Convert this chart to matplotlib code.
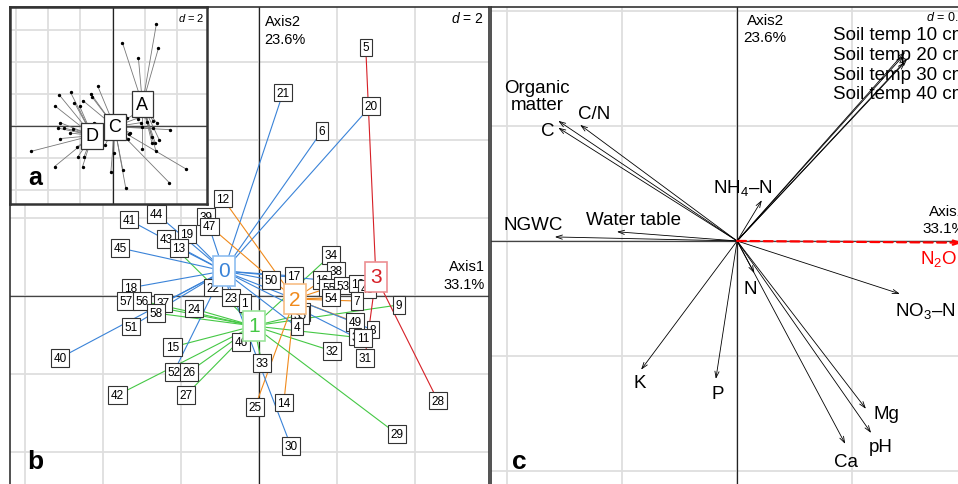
import matplotlib
matplotlib.use("Agg")
import matplotlib.pyplot as plt

plt.rcParams['font.family'] = ['Liberation Sans', 'DejaVu Sans']
plt.rcParams['mathtext.fontset'] = 'custom'
plt.rcParams['mathtext.rm'] = 'Liberation Sans'
plt.rcParams['mathtext.it'] = 'Liberation Sans:italic'

# sample scores (panel b, reused in inset a)
pt_lab = ["5", "21", "20", "6", "12", "39", "47", "41", "44", "43", "19", "13", "45", "18",
          "57", "56", "37", "58", "24", "22", "23", "1", "50", "17", "34", "38", "16", "55",
          "53", "10", "48", "54", "7", "9", "36", "35", "4", "49", "8", "3", "11", "31", "32",
          "46", "33", "15", "52", "26", "27", "42", "40", "51", "25", "14", "30", "29", "28"]
pt_x = [2.74, 0.62, 2.87, 1.62, -0.92, -1.36, -1.26, -3.33, -2.62, -2.38, -1.85, -2.05, -3.56, -3.28,
        -3.41, -3.00, -2.46, -2.64, -1.67, -1.18, -0.72, -0.36, 0.31, 0.90, 1.85, 1.97, 1.62, 1.79,
        2.15, 2.54, 2.77, 1.85, 2.51, 3.59, 1.08, 1.05, 0.97, 2.46, 2.92, 2.46, 2.67, 2.72, 1.87,
        -0.46, 0.08, -2.21, -2.18, -1.79, -1.87, -3.62, -5.10, -3.28, -0.10, 0.64, 0.82, 3.54, 4.59]
pt_y = [6.38, 5.21, 4.87, 4.23, 2.49, 2.03, 1.79, 1.95, 2.10, 1.46, 1.59, 1.23, 1.23, 0.21,
        -0.13, -0.13, -0.18, -0.44, -0.33, 0.21, -0.05, -0.18, 0.41, 0.51, 1.05, 0.64, 0.41, 0.21,
        0.26, 0.31, 0.18, -0.05, -0.13, -0.23, -0.41, -0.49, -0.79, -0.67, -0.87, -1.05, -1.08, -1.59, -1.41,
        -1.18, -1.72, -1.31, -1.95, -1.95, -2.54, -2.54, -1.59, -0.79, -2.85, -2.74, -3.85, -3.54, -2.69]
pt_cluster = [3, 0, 0, 0, 2, 0, 2, 0, 0, 1, 0, 0, 0, 0,
              1, 1, 0, 1, 1, 0, 0, 1, 0, 0, 1, 2, 0, 2,
              3, 3, 3, 2, 2, 1, 2, 1, 0, 2, 0, 0, 1, 3, 1,
              1, 1, 1, 0, 1, 1, 1, 0, 0, 2, 2, 0, 1, 3]
pt_site = ["A", "A", "A", "A", "C", "C", "C", "D", "D", "D", "C", "D", "D", "D",
           "D", "D", "D", "D", "D", "C", "C", "C", "C", "C", "C", "C", "A", "C",
           "A", "A", "A", "C", "C", "C", "C", "C", "C", "A", "A", "A", "A", "A", "A",
           "C", "C", "D", "D", "D", "D", "D", "D", "D", "C", "C", "C", "C", "C"]

clu_names = ["0", "1", "2", "3"]
clu_x = [-0.90, -0.13, 0.92, 3.00]
clu_y = [0.64, -0.77, -0.08, 0.49]
clu_col = ["#3a83d8", "#45c845", "#f08a1c", "#d61f26"]
clu_edge = ["#8dbdf0", "#9be49b", "#f7bd85", "#ec8f92"]

site_names = ["A", "C", "D"]
site_x = [1.87, 0.13, -1.25]
site_y = [1.37, -0.05, -0.60]

# panel c: variable arrows
var_names = ["Soil temp 10 cm", "Soil temp 20 cm", "Soil temp 30 cm", "Soil temp 40 cm",
             "Organic\nmatter", "C", "C/N", "NH$_4$\u2013N", "NGWC", "Water table",
             "NO$_3$\u2013N", "N", "K", "P", "Mg", "pH", "Ca"]
var_x = [0.292, 0.289, 0.296, 0.292, -0.311, -0.311, -0.273, 0.043, -0.317, -0.209,
         0.283, 0.030, -0.167, -0.037, 0.224, 0.233, 0.188]
var_y = [0.329, 0.322, 0.317, 0.311, 0.209, 0.197, 0.202, 0.071, 0.007, 0.016,
         -0.092, -0.056, -0.224, -0.240, -0.292, -0.334, -0.353]
lab_x = [0.167, 0.167, 0.167, 0.167, -0.348, -0.330, -0.249, 0.010, -0.355, -0.181,
         0.327, 0.023, -0.170, -0.033, 0.259, 0.249, 0.190]
lab_y = [0.360, 0.325, 0.290, 0.256, 0.252, 0.193, 0.221, 0.094, 0.028, 0.037,
         -0.120, -0.083, -0.247, -0.266, -0.301, -0.357, -0.383]
resp_name = "N$_2$O"
resp_x, resp_y = 0.392, -0.003
resp_lab = (0.350, -0.030)

GRID = "#dedede"

fig = plt.figure(figsize=(9.58, 4.85), dpi=100)


def base_axes(rect, xlim, ylim, ticks_x, ticks_y):
    ax = fig.add_axes(rect)
    ax.set_xlim(*xlim)
    ax.set_ylim(*ylim)
    ax.set_xticks(ticks_x)
    ax.set_yticks(ticks_y)
    ax.tick_params(length=0, labelbottom=False, labelleft=False)
    ax.grid(color=GRID, lw=1.3, zorder=0)
    ax.set_axisbelow(True)
    ax.axhline(0, color="#444444", lw=0.9, zorder=1)
    ax.axvline(0, color="#222222", lw=0.9, zorder=1)
    for s in ax.spines.values():
        s.set_color("#333333")
        s.set_linewidth(1.2)
    return ax


# ---- panel b ----
axb = base_axes([10 / 958, -3 / 485, 479 / 958, 480 / 485], (-6.38, 5.90), (-4.90, 7.41),
                [-6, -4, -2, 0, 2, 4], [-4, -2, 0, 2, 4, 6])
for i in range(len(pt_lab)):
    g = pt_cluster[i]
    axb.plot([clu_x[g], pt_x[i]], [clu_y[g], pt_y[i]], color=clu_col[g], lw=0.8, zorder=2)
for i in range(len(pt_lab)):
    axb.text(pt_x[i], pt_y[i], pt_lab[i], ha="center", va="center", fontsize=8.5, zorder=3,
             bbox=dict(boxstyle="square,pad=0.22", fc="white", ec="#333333", lw=0.8))
for g in range(len(clu_names)):
    axb.text(clu_x[g], clu_y[g], clu_names[g], ha="center", va="center", fontsize=15,
             color=clu_col[g], zorder=5,
             bbox=dict(boxstyle="square,pad=0.25", fc="white", ec=clu_edge[g], lw=1.2))
axb.text(0.15, 7.22, "Axis2\n23.6%", ha="left", va="top", fontsize=10.5, linespacing=1.35)
axb.text(5.80, 0.12, "Axis1\n33.1%", ha="right", va="bottom", fontsize=10.5, linespacing=1.35)
axb.text(5.77, 7.15, "$d$ = 2", ha="right", va="center", fontsize=10)
axb.text(0.052, 0.054, "b", transform=axb.transAxes, ha="center", va="center",
         fontsize=19, fontweight="bold")

# ---- inset a ----
axa = base_axes([10 / 958, 280 / 485, 197 / 958, 197 / 485], (-6.40, 5.90), (-4.88, 7.44),
                [-6, -4, -2, 0, 2, 4], [-4, -2, 0, 2, 4, 6])
axa.set_zorder(10)
axa.patch.set_facecolor("white")
for s in axa.spines.values():
    s.set_linewidth(1.8)
for i in range(len(pt_lab)):
    k = site_names.index(pt_site[i])
    axa.plot([site_x[k], pt_x[i]], [site_y[k], pt_y[i]], color="#777777", lw=0.6, zorder=2)
axa.scatter(pt_x, pt_y, s=2, color="black", zorder=3)
for k in range(len(site_names)):
    axa.text(site_x[k], site_y[k], site_names[k], ha="center", va="center", fontsize=13, zorder=5,
             bbox=dict(boxstyle="square,pad=0.25", fc="white", ec="#333333", lw=0.9))
axa.text(5.75, 6.8, "$d$ = 2", ha="right", va="center", fontsize=8)
axa.text(0.127, 0.137, "a", transform=axa.transAxes, ha="center", va="center",
         fontsize=18, fontweight="bold")

# ---- panel c ----
axc = base_axes([491 / 958, -3 / 485, 479 / 958, 480 / 485], (-0.428, 0.405), (-0.428, 0.407),
                [-0.4, -0.2, 0, 0.2, 0.4], [-0.4, -0.2, 0, 0.2, 0.4])
for i in range(len(var_names)):
    axc.annotate("", xy=(var_x[i], var_y[i]), xytext=(0, 0), zorder=3,
                 arrowprops=dict(arrowstyle="->,head_length=0.45,head_width=0.15",
                                 color="black", lw=0.6, shrinkA=0, shrinkB=0))
    ha = "left" if var_names[i].startswith("Soil") else "center"
    axc.text(lab_x[i], lab_y[i], var_names[i], ha=ha, va="center", fontsize=13.5,
             linespacing=1.05, zorder=4)
axc.annotate("", xy=(resp_x, resp_y), xytext=(0, 0), zorder=3,
             arrowprops=dict(arrowstyle="->,head_length=0.45,head_width=0.15",
                             color="red", lw=1.6, ls=(0, (4, 2)), shrinkA=0, shrinkB=0))
axc.text(resp_lab[0], resp_lab[1], resp_name, ha="center", va="center", fontsize=13.5,
         color="red", zorder=4)
axc.text(0.049, 0.397, "Axis2\n23.6%", ha="center", va="top", fontsize=11, linespacing=1.3)
axc.text(0.398, 0.010, "Axis1\n33.1%", ha="right", va="bottom", fontsize=11, linespacing=1.3)
axc.text(0.398, 0.390, "$d$ = 0.2", ha="right", va="center", fontsize=9)
axc.text(0.06, 0.054, "c", transform=axc.transAxes, ha="center", va="center",
         fontsize=19, fontweight="bold")

fig.savefig("out.png", dpi=100)
